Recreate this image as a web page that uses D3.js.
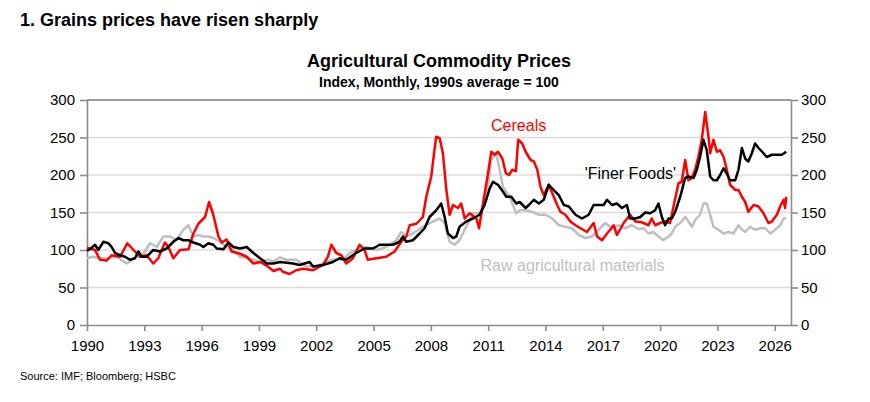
<!DOCTYPE html>
<html>
<head>
<meta charset="utf-8">
<script src="https://cdn.jsdelivr.net/npm/d3@7"></script>
<style>
  body { margin: 0; background: #fff; }
  svg { font-family: "Liberation Sans", Arial, sans-serif; }
  .axis path, .axis line { stroke: #8c8c8c; stroke-width: 1.6; }
  .axis text { font-size: 15px; fill: #000; }
</style>
</head>
<body>
<script>
// [decimal year, index value]
const cereals = [
  [1990.0,103],[1990.42,100],[1990.68,87],[1991.03,86],[1991.29,93],[1991.73,91],[1992.11,109],
  [1992.51,98],[1992.77,91],[1993.12,93],[1993.47,82],[1993.73,89],[1994.08,110],[1994.26,104],
  [1994.52,89],[1994.87,100],[1995.31,101],[1995.57,122],[1995.83,135],[1996.18,144],[1996.39,164],
  [1996.61,147],[1996.88,118],[1997.05,110],[1997.31,114],[1997.57,98],[1998.01,95],[1998.36,91],
  [1998.71,82],[1999.06,84],[1999.41,79],[1999.76,72],[2000.1,75],[2000.25,71],[2000.6,68],
  [2000.95,73],[2001.3,75],[2001.83,73],[2002.35,80],[2002.61,91],[2002.79,107],[2003.05,96],
  [2003.31,93],[2003.57,82],[2003.92,89],[2004.27,107],[2004.53,100],[2004.7,87],[2005.14,89],
  [2005.66,91],[2006.1,98],[2006.45,111],[2006.71,118],[2006.89,133],[2007.24,135],[2007.58,144],
  [2007.76,171],[2008.02,198],[2008.2,236],[2008.28,251],[2008.46,249],[2008.63,229],[2008.81,180],
  [2008.98,147],[2009.16,160],[2009.42,156],[2009.59,162],[2009.77,142],[2010.03,149],[2010.38,142],
  [2010.52,129],[2010.73,162],[2010.99,202],[2011.16,231],[2011.34,227],[2011.51,231],[2011.74,222],
  [2011.93,202],[2012.09,200],[2012.26,207],[2012.45,205],[2012.57,247],[2012.78,242],[2012.96,231],
  [2013.22,220],[2013.39,218],[2013.57,207],[2013.74,184],[2013.91,173],[2014.17,187],[2014.35,176],
  [2014.61,160],[2014.78,151],[2015.04,147],[2015.3,138],[2015.57,133],[2015.83,129],[2016.17,124],
  [2016.52,136],[2016.7,118],[2016.96,113],[2017.22,122],[2017.39,127],[2017.57,133],[2017.74,120],
  [2018.09,136],[2018.43,147],[2018.7,138],[2019.04,137],[2019.39,133],[2019.56,142],[2019.74,133],
  [2020.0,136],[2020.26,138],[2020.52,136],[2020.7,158],[2020.96,189],[2021.13,191],[2021.31,220],
  [2021.48,193],[2021.66,196],[2021.83,207],[2022.0,224],[2022.18,247],[2022.36,284],[2022.53,251],
  [2022.62,229],[2022.79,247],[2022.97,231],[2023.14,233],[2023.32,224],[2023.49,207],[2023.66,187],
  [2023.93,180],[2024.1,180],[2024.28,171],[2024.45,164],[2024.62,151],[2024.89,160],[2025.15,158],
  [2025.41,149],[2025.67,136],[2025.85,138],[2026.11,147],[2026.28,158],[2026.46,167],[2026.54,156],
  [2026.6,171]
];

const finerFoods = [
  [1990.0,99],[1990.16,101],[1990.42,107],[1990.59,100],[1990.86,111],[1991.12,109],[1991.29,104],
  [1991.47,96],[1991.73,93],[1991.99,91],[1992.25,87],[1992.51,89],[1992.69,98],[1992.86,91],
  [1993.12,91],[1993.47,100],[1993.82,98],[1994.17,102],[1994.52,111],[1994.78,116],[1995.04,113],
  [1995.31,113],[1995.57,110],[1995.92,107],[1996.09,104],[1996.35,109],[1996.61,107],[1996.79,102],
  [1997.14,101],[1997.4,110],[1997.66,104],[1998.01,102],[1998.36,104],[1998.71,96],[1999.06,89],
  [1999.41,82],[1999.76,82],[2000.1,84],[2000.45,83],[2000.78,82],[2001.13,80],[2001.65,84],
  [2001.83,78],[2002.35,80],[2002.87,84],[2003.22,89],[2003.57,87],[2004.09,96],[2004.53,102],
  [2004.97,102],[2005.32,107],[2005.66,107],[2006.01,107],[2006.36,111],[2006.54,118],[2006.71,111],
  [2007.06,113],[2007.41,122],[2007.67,129],[2007.93,144],[2008.28,153],[2008.54,162],[2008.72,144],
  [2008.89,122],[2009.16,116],[2009.33,118],[2009.5,131],[2009.85,138],[2010.2,142],[2010.55,147],
  [2010.81,160],[2011.08,182],[2011.25,191],[2011.51,187],[2011.77,178],[2011.95,171],[2012.21,171],
  [2012.47,162],[2012.65,164],[2012.96,156],[2013.13,160],[2013.39,167],[2013.65,162],[2013.91,167],
  [2014.17,187],[2014.43,180],[2014.7,173],[2014.96,160],[2015.22,158],[2015.57,147],[2015.91,142],
  [2016.26,147],[2016.52,160],[2016.78,160],[2017.04,160],[2017.22,167],[2017.48,160],[2017.74,162],
  [2018.0,156],[2018.26,160],[2018.43,142],[2018.7,142],[2018.96,144],[2019.22,150],[2019.48,149],
  [2019.74,153],[2019.91,162],[2020.09,144],[2020.26,133],[2020.44,142],[2020.61,142],[2020.79,151],
  [2021.05,171],[2021.31,196],[2021.48,198],[2021.75,196],[2021.92,207],[2022.09,224],[2022.27,247],
  [2022.44,233],[2022.62,198],[2022.79,193],[2022.97,193],[2023.14,200],[2023.32,209],[2023.49,202],
  [2023.66,193],[2023.93,193],[2024.1,207],[2024.28,236],[2024.45,222],[2024.62,218],[2024.8,229],
  [2024.97,242],[2025.15,236],[2025.41,229],[2025.58,224],[2025.85,227],[2026.11,227],[2026.37,227],
  [2026.6,231]
];

const rawMaterials = [
  [1990.0,89],[1990.33,91],[1990.68,89],[1991.03,89],[1991.55,91],[1992.08,82],[1992.6,91],
  [1992.95,95],[1993.3,109],[1993.65,104],[1994.0,118],[1994.35,118],[1994.69,113],[1995.04,127],
  [1995.31,133],[1995.57,118],[1995.83,120],[1996.09,118],[1996.35,118],[1996.61,116],[1996.96,111],
  [1997.31,104],[1997.66,100],[1998.01,91],[1998.36,89],[1998.71,87],[1999.06,84],[1999.41,87],
  [1999.76,85],[2000.1,90],[2000.43,87],[2000.95,87],[2001.48,78],[2002.0,78],[2002.35,82],
  [2002.87,87],[2003.4,87],[2003.75,96],[2004.09,100],[2004.62,104],[2005.14,100],[2005.66,104],
  [2006.19,113],[2006.45,124],[2006.71,118],[2007.06,122],[2007.58,131],[2008.11,138],[2008.46,142],
  [2008.72,136],[2008.98,111],[2009.24,107],[2009.5,113],[2009.85,131],[2010.2,149],[2010.55,149],
  [2010.9,167],[2011.16,220],[2011.42,229],[2011.6,207],[2011.77,184],[2012.12,171],[2012.47,149],
  [2012.65,153],[2012.96,153],[2013.3,151],[2013.65,147],[2014.0,147],[2014.35,142],[2014.7,133],
  [2015.04,131],[2015.39,129],[2015.74,120],[2016.09,116],[2016.43,118],[2016.78,127],[2017.13,136],
  [2017.48,129],[2017.83,133],[2018.17,129],[2018.52,133],[2018.87,128],[2019.13,129],[2019.39,122],
  [2019.65,124],[2019.91,118],[2020.17,113],[2020.44,118],[2020.61,122],[2020.79,131],[2021.05,136],
  [2021.31,144],[2021.48,138],[2021.66,131],[2021.83,140],[2022.09,147],[2022.27,162],[2022.44,162],
  [2022.62,147],[2022.79,131],[2023.05,127],[2023.32,122],[2023.58,124],[2023.84,122],[2024.1,133],
  [2024.28,127],[2024.45,124],[2024.71,131],[2024.97,127],[2025.24,129],[2025.5,129],[2025.76,122],
  [2026.02,127],[2026.28,133],[2026.46,142],[2026.6,142]
];

const yTicks = [0, 50, 100, 150, 200, 250, 300];
const xTicks = [1990, 1993, 1996, 1999, 2002, 2005, 2008, 2011, 2014, 2017, 2020, 2023, 2026];

const w = 870;
const h = 402;
const plot = { left: 87, right: 791, top: 100, bottom: 325 };

const xScale = d3.scaleLinear().domain([1990, 2026.85]).range([plot.left, plot.right]);
const yScale = d3.scaleLinear().domain([0, 300]).range([plot.bottom, plot.top]);

const svg = d3.select("body").append("svg").attr("width", w).attr("height", h);

// titles
svg.append("text")
  .attr("x", 20).attr("y", 26)
  .attr("font-size", 18).attr("font-weight", "bold")
  .text("1. Grains prices have risen sharply");

svg.append("text")
  .attr("x", (plot.left + plot.right) / 2).attr("y", 67)
  .attr("text-anchor", "middle")
  .attr("font-size", 18).attr("font-weight", "bold")
  .text("Agricultural Commodity Prices");

svg.append("text")
  .attr("x", (plot.left + plot.right) / 2).attr("y", 87)
  .attr("text-anchor", "middle")
  .attr("font-size", 14).attr("font-weight", "bold")
  .text("Index, Monthly, 1990s average = 100");

// gridlines
svg.append("g")
  .selectAll("line")
  .data(yTicks.filter((d) => d > 0 && d < 300))
  .enter()
  .append("line")
  .attr("x1", plot.left).attr("x2", plot.right)
  .attr("y1", (d) => yScale(d)).attr("y2", (d) => yScale(d))
  .attr("stroke", "#dcdcdc").attr("stroke-width", 1.5);

svg.append("line")
  .attr("x1", plot.left).attr("x2", plot.right)
  .attr("y1", yScale(300)).attr("y2", yScale(300))
  .attr("stroke", "#3a3a3a").attr("stroke-width", 1.2);

// axes
svg.append("g")
  .attr("class", "axis")
  .attr("transform", `translate(${plot.left}, 0)`)
  .call(d3.axisLeft(yScale).tickValues(yTicks).tickSize(7).tickSizeOuter(0).tickPadding(5));

svg.append("g")
  .attr("class", "axis")
  .attr("transform", `translate(${plot.right}, 0)`)
  .call(d3.axisRight(yScale).tickValues(yTicks).tickSize(7).tickSizeOuter(0).tickPadding(3));

svg.append("g")
  .attr("class", "axis")
  .attr("transform", `translate(0, ${plot.bottom})`)
  .call(d3.axisBottom(xScale).tickValues(xTicks).tickFormat(d3.format("d")).tickSize(6).tickSizeOuter(0).tickPadding(9));

svg.selectAll(".axis .domain").attr("stroke-width", 2);

// series
const line = d3.line().x((d) => xScale(d[0])).y((d) => yScale(d[1]));

const series = [
  { data: rawMaterials, color: "#bfbfbf" },
  { data: cereals, color: "#ff0000" },
  { data: finerFoods, color: "#000000" }
];

svg.append("g")
  .selectAll("path")
  .data(series)
  .enter()
  .append("path")
  .attr("d", (d) => line(d.data))
  .attr("fill", "none")
  .attr("stroke", (d) => d.color)
  .attr("stroke-width", 2.5)
  .attr("stroke-linejoin", "round");

// series labels
const labels = [
  { text: "Cereals", at: [2011.15, 259], color: "#ff0000" },
  { text: "'Finer Foods'", at: [2016.05, 195], color: "#000000" },
  { text: "Raw agricultural materials", at: [2010.6, 72], color: "#bfbfbf" }
];

svg.append("g")
  .selectAll("text")
  .data(labels)
  .enter()
  .append("text")
  .attr("x", (d) => xScale(d.at[0]))
  .attr("y", (d) => yScale(d.at[1]))
  .attr("font-size", 16)
  .attr("fill", (d) => d.color)
  .text((d) => d.text);

svg.append("text")
  .attr("x", 20).attr("y", 380)
  .attr("font-size", 11)
  .text("Source: IMF; Bloomberg; HSBC");
</script>
</body>
</html>
